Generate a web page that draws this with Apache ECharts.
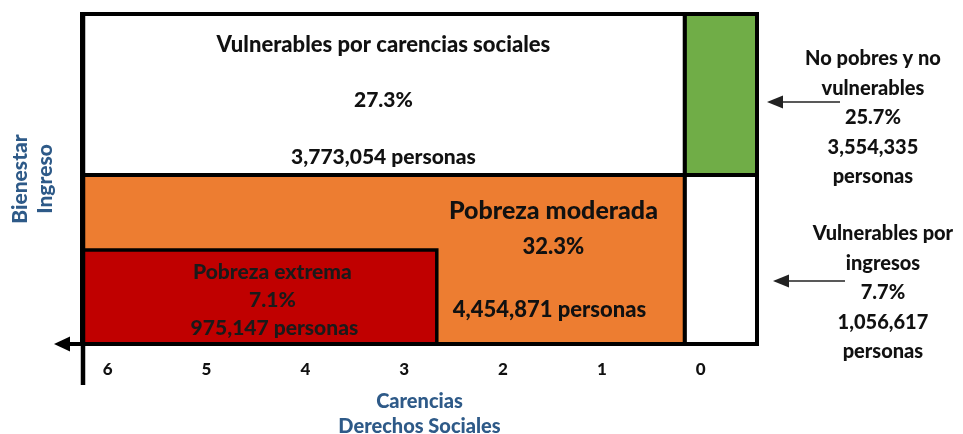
<!DOCTYPE html>
<html>
<head>
<meta charset="utf-8">
<script src="https://cdn.jsdelivr.net/npm/echarts@6/dist/echarts.min.js"></script>
<style>
    html, body { margin: 0; padding: 0; background: #fff; }
    #chart { width: 963px; height: 434px; }
</style>
</head>
<body>
<div id="chart"></div>
<script>
// eje x: numero de carencias sociales (invertido), eje y: ingreso (0 - 1)
const carencias = [6, 5, 4, 3, 2, 1, 0];
const grupos = ['Vulnerables por carencias sociales', 'Pobreza moderada', 'Pobreza extrema', 'No pobres y no\nvulnerables', 'Vulnerables por\ningresos'];
const porcentaje = [27.3, 32.3, 7.1, 25.7, 7.7];
const personas = [3773054, 4454871, 975147, 3554335, 1056617];
const carDesde = [6.26, 6.26, 6.26, 0.16, 0.16];
const carHasta = [0.16, 0.16, 2.67, -0.57, -0.57];
const ingDesde = [0.512, 0, 0, 0.512, 0];
const ingHasta = [1, 0.512, 0.285, 1, 0.512];

const relleno = ['#ffffff', '#ED7D31', '#C00000', '#70AD47', '#ffffff'];
const FONT = 'Lato, "Open Sans", sans-serif';
const W = '900';
const AZUL = '#2E5A88';

// donde va el texto de cada grupo (desplazamiento desde el centro del rectangulo)
const textos = [
    { dx: 0, lines: [[-49.5, 22, 'name'], [5.5, 21, 'pct'], [62.5, 21, 'per']] },
    { dx: 170, lines: [[-48.5, 25, 'name'], [-12.5, 22, 'pct'], [50.5, 22, 'per', -4]] },
    { dx: 13, lines: [[-25, 21, 'name'], [3, 21, 'pct'], [31, 21, 'per', 2]] },
];
// grupos con nota fuera del diagrama + flecha
const notas = {
    3: { dx: 152, dy: 23.5, arrowY: 7.5, from: 83, to: 10 },
    4: { dx: 162, dy: 33.5, arrowY: 21.5, from: 88, to: 16 },
};

const fmt = n => n.toLocaleString('en-US');

function flecha(x0, x1, y, color, w, head, half) {
    return [
        { type: 'line', shape: { x1: x0, y1: y, x2: x1 + head - 1, y2: y }, style: { stroke: color, lineWidth: w } },
        { type: 'polygon', shape: { points: [[x1, y], [x1 + head, y - half], [x1 + head, y + half]] }, style: { fill: color } }
    ];
}

function renderGrupo(params, api) {
    const i = params.dataIndex;
    const p0 = api.coord([carDesde[i], ingHasta[i]]);
    const p1 = api.coord([carHasta[i], ingDesde[i]]);
    const cx = (p0[0] + p1[0]) / 2, cy = (p0[1] + p1[1]) / 2;
    const children = [{
        type: 'rect',
        shape: { x: p0[0], y: p0[1], width: p1[0] - p0[0], height: p1[1] - p0[1] },
        style: { fill: relleno[i], stroke: '#000', lineWidth: i === 2 ? 3.5 : 4 }
    }];
    const t = textos[i];
    if (t) {
        t.lines.forEach(([dy, size, k, ddx]) => {
            const txt = k === 'name' ? grupos[i] : k === 'pct' ? porcentaje[i].toFixed(1) + '%' : fmt(personas[i]) + ' personas';
            children.push({
                type: 'text', z2: 10,
                style: {
                    text: txt, x: cx + t.dx + (ddx || 0), y: cy + dy,
                    align: 'center', verticalAlign: 'middle',
                    font: W + ' ' + size + 'px ' + FONT, fill: i === 2 ? '#1a1a1a' : '#111'
                }
            });
        });
    }
    const n = notas[i];
    if (n) {
        children.push({
            type: 'text',
            style: {
                text: grupos[i] + '\n' + porcentaje[i].toFixed(1) + '%\n' + fmt(personas[i]) + '\npersonas',
                x: cx + n.dx, y: cy + n.dy, align: 'center', verticalAlign: 'middle',
                font: W + ' 20px ' + FONT, lineHeight: 29.5, fill: '#111'
            }
        });
        children.push(...flecha(p1[0] + n.from, p1[0] + n.to, cy + n.arrowY, '#222', 1.6, 16, 6.5));
    }
    return { type: 'group', children };
}

function renderEjes(params, api) {
    const o = api.coord([carDesde[0], 0]);
    const top = api.coord([carDesde[0], 1]);
    const right = api.coord([carHasta[3], 0]);
    return {
        type: 'group',
        children: [
            { type: 'line', shape: { x1: o[0] + 1, y1: top[1] - 2, x2: o[0] + 1, y2: o[1] + 41 }, style: { stroke: '#000', lineWidth: 4.5 } },
            { type: 'line', shape: { x1: right[0], y1: o[1], x2: o[0] - 14, y2: o[1] }, style: { stroke: '#000', lineWidth: 4 } },
            { type: 'polygon', shape: { points: [[o[0] - 28, o[1]], [o[0] - 12, o[1] - 7.5], [o[0] - 12, o[1] + 7.5]] }, style: { fill: '#000' } }
        ]
    };
}

const chart = echarts.init(document.getElementById('chart'));
chart.setOption({
    animation: false,
    grid: { left: 82, right: 206, top: 14, bottom: 90, outerBoundsMode: 'none', containLabel: false },
    xAxis: {
        type: 'value', inverse: true, min: -0.57, max: 6.26,
        axisLine: { show: false }, axisTick: { show: false }, splitLine: { show: false },
        axisLabel: { customValues: carencias, margin: 17, fontSize: 17, fontWeight: W, color: '#111', fontFamily: FONT },
        name: 'Carencias\nDerechos Sociales', nameLocation: 'middle', nameGap: 45,
        nameTextStyle: { color: AZUL, fontSize: 20, fontWeight: W, fontFamily: FONT, lineHeight: 25 }
    },
    yAxis: {
        type: 'value', min: 0, max: 1,
        axisLine: { show: false }, axisTick: { show: false }, splitLine: { show: false }, axisLabel: { show: false },
        name: 'Bienestar\nIngreso', nameLocation: 'middle', nameRotate: 90, nameGap: 24,
        nameTextStyle: { color: AZUL, fontSize: 21, fontWeight: W, fontFamily: FONT, lineHeight: 25 }
    },
    series: [
        { type: 'custom', name: 'grupos', renderItem: renderGrupo, data: grupos.map((g, i) => [carDesde[i], carHasta[i], ingDesde[i], ingHasta[i]]), encode: { x: [0, 1], y: [2, 3] }, silent: true },
        { type: 'custom', name: 'ejes', renderItem: renderEjes, data: [[0, 0]], z: 3, silent: true }
    ]
});
</script>
</body>
</html>
